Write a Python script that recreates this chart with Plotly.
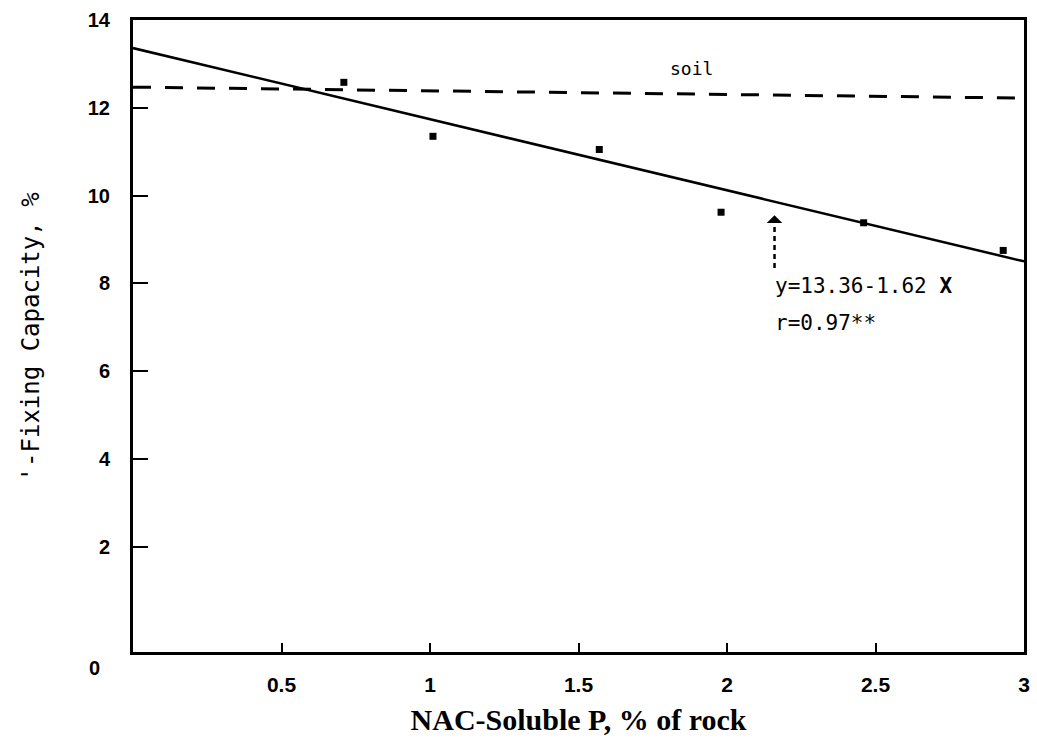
import plotly.graph_objects as go

# data
p_soluble = [0.71, 1.01, 1.57, 1.98, 2.46, 2.93]
fixing_cap = [12.58, 11.35, 11.05, 9.62, 9.38, 8.75]

fit_intercept = 13.36
fit_slope = -1.62
fit_x = [0.0, 3.0]
fit_y = [fit_intercept + fit_slope * v for v in fit_x]

soil_x = [0.0, 3.0]
soil_y = [12.47, 12.22]

x_ticks = [0.5, 1, 1.5, 2, 2.5, 3]
x_tick_text = ["0.5", "1", "1.5", "2", "2.5", "3"]
y_ticks = [2, 4, 6, 8, 10, 12, 14]

arrow_x = 2.16
arrow_y0 = 8.35
arrow_y1 = 9.55

fig = go.Figure()

fig.add_trace(go.Scatter(x=soil_x, y=soil_y, mode="lines",
                         line=dict(color="black", width=3, dash="18px,14px"),
                         showlegend=False, hoverinfo="skip"))
fig.add_trace(go.Scatter(x=fit_x, y=fit_y, mode="lines",
                         line=dict(color="black", width=2.5),
                         showlegend=False))
fig.add_trace(go.Scatter(x=p_soluble, y=fixing_cap, mode="markers",
                         marker=dict(symbol="square", size=7, color="black"),
                         showlegend=False))
fig.add_trace(go.Scatter(x=[arrow_x, arrow_x], y=[arrow_y0, arrow_y1 - 0.05], mode="lines",
                         line=dict(color="black", width=2.5, dash="5px,4px"),
                         showlegend=False, hoverinfo="skip"))

fig.add_annotation(x=arrow_x, y=arrow_y1, ax=0, ay=5,
                   xref="x", yref="y", text="",
                   showarrow=True, arrowhead=1, arrowsize=1.3, arrowwidth=2,
                   arrowcolor="black")

mono = "DejaVu Sans Mono"
fig.add_annotation(x=1.80, y=12.9, xref="x", yref="y", text="soil", showarrow=False,
                   xanchor="left", yanchor="middle",
                   font=dict(family=mono, size=18, color="black"))
fig.add_annotation(x=2.155, y=7.95, xref="x", yref="y", text="y=13.36-1.62 <b>X</b>",
                   showarrow=False, xanchor="left", yanchor="middle",
                   font=dict(family=mono, size=21, color="black"))
fig.add_annotation(x=2.155, y=7.1, xref="x", yref="y", text="r=0.97**",
                   showarrow=False, xanchor="left", yanchor="middle",
                   font=dict(family=mono, size=21, color="black"))

fig.add_annotation(x=-0.035, y=-0.005, xref="paper", yref="paper", text="<b>0</b>",
                   showarrow=False, xanchor="right", yanchor="top",
                   font=dict(family="Liberation Sans", size=20, color="black"))

fig.add_annotation(x=-0.132, y=0.5, xref="paper", yref="paper",
                   text="'-Fixing Capacity, %", textangle=-90, showarrow=False,
                   font=dict(family=mono, size=24, color="black"))

fig.update_layout(
    width=1037, height=743,
    margin=dict(l=133, r=7, t=20, b=91),
    paper_bgcolor="white", plot_bgcolor="white",
    xaxis=dict(range=[0, 3], tickvals=x_ticks, ticktext=x_tick_text,
               ticks="inside", ticklen=9, tickwidth=2, tickcolor="black",
               showgrid=False, zeroline=False, showline=True, linecolor="black",
               linewidth=3, mirror=True, ticklabelstandoff=12,
               tickfont=dict(family="Liberation Sans Narrow, Liberation Sans", size=21,
                             color="black", weight="bold"),
               title=dict(text="NAC-Soluble P, % of rock", standoff=14,
                          font=dict(family="Liberation Serif", size=30, color="black",
                                    weight="bold"))),
    yaxis=dict(range=[-0.4, 14], tickvals=y_ticks,
               ticks="inside", ticklen=15, tickwidth=2, tickcolor="black",
               showgrid=False, zeroline=False, showline=True, linecolor="black",
               linewidth=3, mirror=True, ticklabelstandoff=16,
               tickfont=dict(family="Liberation Sans", size=20, color="black",
                             weight="bold")),
)

fig.write_html("out.html")
